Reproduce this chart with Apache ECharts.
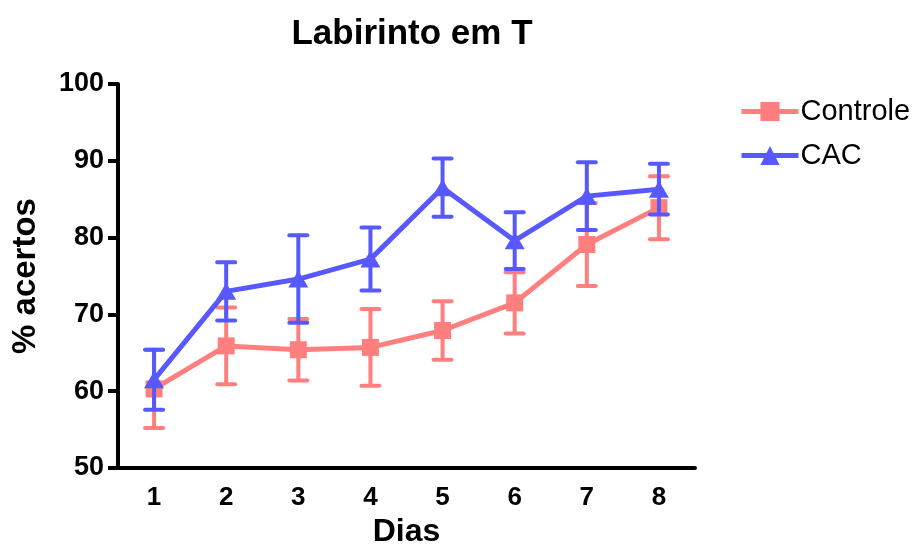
<!DOCTYPE html>
<html>
<head>
<meta charset="utf-8">
<script src="https://cdn.jsdelivr.net/npm/echarts@6/dist/echarts.min.js"></script>
<style>html,body{margin:0;padding:0;background:#fff}#c{width:920px;height:547px}</style>
</head>
<body>
<div id="c"></div>
<script>
var days = ['1','2','3','4','5','6','7','8'];
var controleMean = [60.3, 65.9, 65.4, 65.7, 67.9, 71.5, 79.1, 83.9];
var controleErr  = [5.1, 5.0, 4.0, 5.0, 3.8, 4.0, 5.4, 4.1];
var cacMean = [61.5, 73.0, 74.6, 77.2, 86.5, 79.6, 85.4, 86.3];
var cacErr  = [3.9, 3.8, 5.7, 4.1, 3.8, 3.7, 4.4, 3.3];
var yTicks = [50, 60, 70, 80, 90, 100];

var red = '#FF7F7F';
var blue = '#5858FF';
var FONT = 'Liberation Sans, Arial, sans-serif';

function errData(mean, err) {
  return mean.map(function (m, i) { return [i, m - err[i], m + err[i]]; });
}
function errRender(color) {
  return function (params, api) {
    var lo = api.coord([api.value(0), api.value(1)]);
    var hi = api.coord([api.value(0), api.value(2)]);
    var hw = 9;
    var st = { stroke: color, lineWidth: 4 };
    return {
      type: 'group',
      children: [
        { type: 'line', shape: { x1: lo[0], y1: lo[1], x2: hi[0], y2: hi[1] }, style: st },
        { type: 'line', shape: { x1: lo[0] - hw, y1: lo[1], x2: lo[0] + hw, y2: lo[1] }, style: Object.assign({ lineCap: 'round' }, st) },
        { type: 'line', shape: { x1: hi[0] - hw, y1: hi[1], x2: hi[0] + hw, y2: hi[1] }, style: Object.assign({ lineCap: 'round' }, st) }
      ]
    };
  };
}

var chart = echarts.init(document.getElementById('c'));
chart.setOption({
  animation: false,
  textStyle: { fontFamily: FONT },
  title: {
    text: 'Labirinto em T',
    left: 407, top: 12, textAlign: 'center',
    textStyle: { fontSize: 35, fontWeight: 'bold', color: '#000', fontFamily: FONT }
  },
  legend: {
    orient: 'vertical', left: 734, top: 92, itemGap: 15,
    itemWidth: 57, itemHeight: 24,
    data: ['Controle', 'CAC'],
    lineStyle: { width: 5 },
    textStyle: { fontSize: 29, color: '#000', fontFamily: FONT, padding: [0, 0, 0, -3] }
  },
  grid: { left: 118, right: 225, top: 84, bottom: 79, outerBoundsMode: 'none', containLabel: false },
  xAxis: {
    type: 'category', data: days, boundaryGap: true,
    name: 'Dias', nameLocation: 'middle', nameGap: 46,
    nameTextStyle: { fontSize: 32, fontWeight: 'bold', color: '#000', fontFamily: FONT },
    axisLine: { lineStyle: { color: '#000', width: 4, cap: 'round' } },
    axisTick: { show: false },
    axisLabel: { fontSize: 26, fontWeight: 'bold', color: '#000', margin: 17, fontFamily: FONT }
  },
  yAxis: {
    type: 'value', min: yTicks[0], max: yTicks[yTicks.length - 1], interval: 10,
    name: '% acertos', nameLocation: 'middle', nameGap: 76, nameRotate: 90,
    nameTextStyle: { fontSize: 33, fontWeight: 'bold', color: '#000', fontFamily: FONT },
    axisLine: { show: true, lineStyle: { color: '#000', width: 4 } },
    axisTick: { show: true, length: 10, lineStyle: { color: '#000', width: 4 } },
    axisLabel: { fontSize: 27, fontWeight: 'bold', color: '#000', margin: 14, fontFamily: FONT },
    splitLine: { show: false }
  },
  series: [
    {
      name: 'ControleErr', type: 'custom', renderItem: errRender(red),
      data: errData(controleMean, controleErr), encode: { x: 0, y: [1, 2] }, z: 1
    },
    {
      name: 'Controle', type: 'line', data: controleMean, z: 2,
      symbol: 'rect', symbolSize: 17, itemStyle: { color: red },
      lineStyle: { color: red, width: 5 }
    },
    {
      name: 'CACErr', type: 'custom', renderItem: errRender(blue),
      data: errData(cacMean, cacErr), encode: { x: 0, y: [1, 2] }, z: 3
    },
    {
      name: 'CAC', type: 'line', data: cacMean, z: 4,
      symbol: 'triangle', symbolSize: [20, 17], itemStyle: { color: blue },
      lineStyle: { color: blue, width: 5 }
    }
  ]
});
</script>
</body>
</html>
